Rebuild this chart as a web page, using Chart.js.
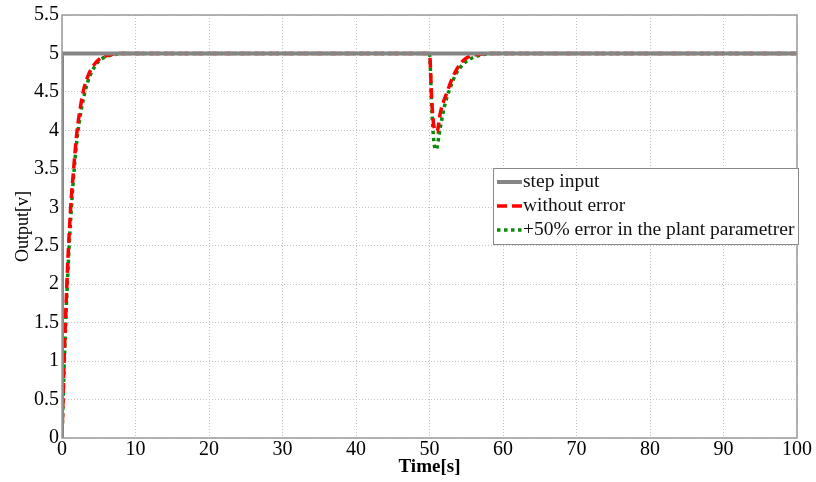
<!DOCTYPE html>
<html>
<head>
<meta charset="utf-8">
<script src="https://cdn.jsdelivr.net/npm/chart.js@4.4.1/dist/chart.umd.min.js"></script>
<style>
  html, body { margin: 0; padding: 0; background: #fff; }
  #wrap { width: 816px; height: 482px; position: relative; }
</style>
</head>
<body>
<div id="wrap"><canvas id="chartArea"></canvas></div>
<script>
// values
const stepTime = [0, 0, 100];
const stepValue = [0, 5, 5];

const redTime = [0, 0.25, 0.5, 0.75, 1, 1.25, 1.5, 2, 2.5, 3, 3.5, 4, 5, 6, 7, 8, 50,
  50.3, 50.6, 51, 51.5, 52.4, 53.3, 54.4, 55.6, 57, 58, 100];
const redValue = [0, 0.9, 1.6, 2.2, 2.7, 3.1, 3.4, 3.95, 4.3, 4.55, 4.7, 4.8, 4.92, 4.97, 4.99, 5, 5,
  4.4, 4.05, 3.98, 4.24, 4.5, 4.72, 4.89, 4.97, 4.99, 5, 5];

const greenTime = [0, 0.25, 0.5, 0.75, 1, 1.25, 1.5, 2, 2.5, 3, 3.5, 4, 5, 6, 7, 8, 9, 50,
  50.3, 50.6, 50.9, 51.4, 52, 52.8, 53.7, 54.8, 56, 57.5, 59, 100];
const greenValue = [0, 0.8, 1.5, 2.05, 2.55, 2.95, 3.3, 3.85, 4.2, 4.45, 4.63, 4.75, 4.9, 4.96, 4.98, 5, 5, 5,
  4.3, 3.85, 3.75, 4.0, 4.3, 4.55, 4.75, 4.88, 4.95, 4.99, 5, 5];

const xTicks = [0, 10, 20, 30, 40, 50, 60, 70, 80, 90, 100];
const yTicks = [0, 0.5, 1, 1.5, 2, 2.5, 3, 3.5, 4, 4.5, 5, 5.5];

const seriesNames = ['step input', 'without error', '+50% error in the plant parametrer'];

const toPoints = (t, v) => t.map((x, i) => ({ x: x, y: v[i] }));

const serif = 'Liberation Serif, Times New Roman, serif';

// box round the plot + legend inside it
const boxLegend = {
  id: 'boxLegend',
  afterDraw(chart) {
    const ctx = chart.ctx;
    const a = chart.chartArea;
    ctx.save();
    ctx.strokeStyle = '#9a9a9a';
    ctx.lineWidth = 1.5;
    ctx.setLineDash([]);
    ctx.strokeRect(a.left, a.top, a.right - a.left, a.bottom - a.top);

    // legend
    const x0 = 493, y0 = 168, w = 305, h = 76;
    ctx.fillStyle = '#fff';
    ctx.fillRect(x0, y0, w, h);
    ctx.strokeStyle = '#8a8a8a';
    ctx.lineWidth = 1;
    ctx.strokeRect(x0 + 0.5, y0 + 0.5, w, h);
    ctx.font = '19.5px ' + serif;
    ctx.textBaseline = 'middle';
    chart.data.datasets.forEach((ds, i) => {
      const y = y0 + 14 + i * 24;
      ctx.strokeStyle = ds.borderColor;
      ctx.lineWidth = ds.borderWidth;
      ctx.setLineDash(ds.borderDash || []);
      ctx.beginPath();
      ctx.moveTo(x0 + 4, y);
      ctx.lineTo(x0 + 29, y);
      ctx.stroke();
      ctx.setLineDash([]);
      ctx.fillStyle = '#111';
      ctx.fillText(ds.label, x0 + 30, y);
    });
    ctx.restore();
  }
};

new Chart(document.getElementById('chartArea'), {
  type: 'line',
  data: {
    datasets: [
      {
        label: seriesNames[0],
        data: toPoints(stepTime, stepValue),
        borderColor: '#858585',
        borderWidth: 4,
        pointRadius: 0,
        tension: 0
      },
      {
        label: seriesNames[1],
        data: toPoints(redTime, redValue),
        borderColor: '#ff0000',
        borderWidth: 3.5,
        borderDash: [10, 5],
        pointRadius: 0,
        cubicInterpolationMode: 'monotone'
      },
      {
        label: seriesNames[2],
        data: toPoints(greenTime, greenValue),
        borderColor: '#0a8a0a',
        borderWidth: 3.5,
        borderDash: [3.5, 3.5],
        pointRadius: 0,
        cubicInterpolationMode: 'monotone'
      }
    ]
  },
  options: {
    responsive: true,
    maintainAspectRatio: false,
    animation: false,
    layout: { padding: { left: 12, right: 19, top: 14, bottom: 4 } },
    plugins: {
      legend: { display: false },
      tooltip: { enabled: false }
    },
    scales: {
      x: {
        type: 'linear',
        min: 0,
        max: 100,
        afterBuildTicks: (s) => { s.ticks = xTicks.map(v => ({ value: v })); },
        ticks: { color: '#000', font: { family: serif, size: 20 }, padding: 0, maxRotation: 0, callback: (v) => String(v) },
        grid: { color: '#c4c4c4', lineWidth: 1, drawTicks: false },
        border: { display: false, dash: [1, 2] },
        title: { display: true, text: 'Time[s]', color: '#000', font: { family: serif, size: 19, weight: 'bold' }, padding: { top: -5, bottom: 0 } },
        afterFit: (s) => { s.height = 40; }
      },
      y: {
        type: 'linear',
        min: 0,
        max: 5.5,
        afterBuildTicks: (s) => { s.ticks = yTicks.map(v => ({ value: v })); },
        ticks: { color: '#000', font: { family: serif, size: 20 }, padding: 3, callback: (v) => String(v) },
        grid: { color: '#c4c4c4', lineWidth: 1, drawTicks: false },
        border: { display: false, dash: [1, 2] },
        title: { display: true, text: 'Output[v]', color: '#000', font: { family: serif, size: 18 }, padding: 0 },
        afterFit: (s) => { s.width = 50; }
      }
    }
  },
  plugins: [boxLegend]
});
</script>
</body>
</html>
